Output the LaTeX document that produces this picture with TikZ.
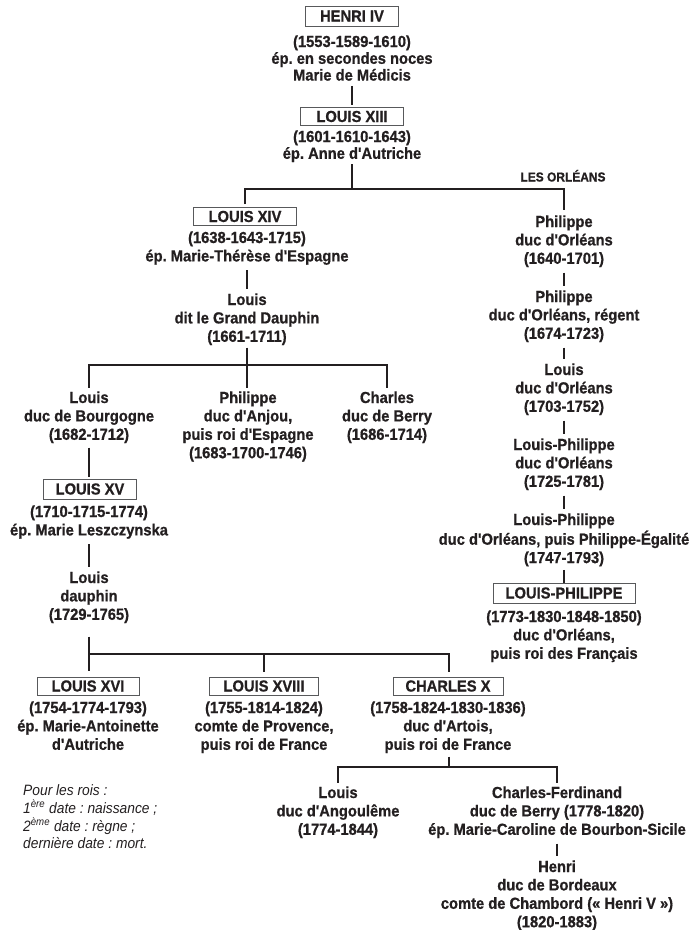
\documentclass[tikz,border=0pt]{standalone}
\usepackage{fontspec}
\setmainfont{Liberation Sans}[Ligatures=TeXOff, FakeStretch=0.92, BoldFeatures={FakeBold=0.8}]
\definecolor{ink}{HTML}{231F20}
\definecolor{boxgray}{HTML}{58595B}
\newcommand{\pers}[1]{\begin{tabular}[t]{@{}c@{}}#1\end{tabular}}
\newcommand{\legd}[1]{\begin{tabular}[t]{@{}l@{}}#1\end{tabular}}
\frenchspacing
\tikzset{
  person/.style={anchor=base, inner sep=0pt, text=ink,
    font=\fontsize{16}{18.4}\selectfont\bfseries},
  toptext/.style={person, font=\fontsize{16}{16.8}\selectfont\bfseries},
  kbox/.style={draw=boxgray, line width=0.8pt, inner sep=0pt, text=ink,
    minimum height=18pt, font=\fontsize{16}{17}\selectfont\bfseries},
  conn/.style={draw=ink, line width=1.4pt},
  gap/.style={shorten <=3pt, shorten >=3pt},
}
\begin{document}
\begin{tikzpicture}[x=1pt, y=-1pt]
\useasboundingbox (0,0) rectangle (692,930);

% ---- Henri IV, Louis XIII
\node[kbox, minimum width=93pt, minimum height=20pt] (henri) at (352,16) {HENRI IV};
\node[toptext] (henriT) at (352,47) {\pers{(1553-1589-1610)\\ép. en secondes noces\\Marie de Médicis}};
\node[kbox, minimum width=103pt] (louis13) at (352,116.5) {LOUIS XIII};
\node[toptext] (louis13T) at (352,142) {\pers{(1601-1610-1643)\\ép. Anne d'Autriche}};
\coordinate (j1) at (352,189);

\draw[conn, shorten >=2pt] (henriT.south) -- (louis13.north);
\draw[conn] (louis13T.south) -- (j1);

\node[anchor=base, inner sep=0pt, text=ink, font=\fontsize{13}{14}\selectfont\bfseries] (orl) at (563,181.5) {LES ORLÉANS};

% ---- Louis XIV branch
\node[kbox, minimum width=103pt] (louis14) at (245,216.5) {LOUIS XIV};
\node[person] (louis14T) at (247,243) {\pers{(1638-1643-1715)\\ép. Marie-Thérèse d'Espagne}};
\node[person] (dauphinT) at (247,305) {\pers{Louis\\dit le Grand Dauphin\\(1661-1711)}};
\draw[conn, gap] (louis14T.south) -- (dauphinT.north);

% ---- Orléans branch
\node[person] (phil1) at (564,227) {\pers{Philippe\\duc d'Orléans\\(1640-1701)}};
\draw[conn, shorten <=3pt, shorten >=4pt] (louis14.north) |- (j1) -| (phil1.north);

\node[person] (phil2) at (564,302) {\pers{Philippe\\duc d'Orléans, régent\\(1674-1723)}};
\node[person] (louisO) at (564,375) {\pers{Louis\\duc d'Orléans\\(1703-1752)}};
\node[person] (lp1) at (564,450) {\pers{Louis-Philippe\\duc d'Orléans\\(1725-1781)}};
\node[person] (lp2) at (564,525) {\pers{Louis-Philippe\\duc d'Orléans, puis Philippe-Égalité\\(1747-1793)}};
\node[kbox, minimum width=142pt, minimum height=20pt] (lpbox) at (564,593) {LOUIS-PHILIPPE};
\node[person] (lpT) at (564,622) {\pers{(1773-1830-1848-1850)\\duc d'Orléans,\\puis roi des Français}};
\draw[conn, gap] (phil1.south) -- (phil2.north);
\draw[conn, gap] (phil2.south) -- (louisO.north);
\draw[conn, gap] (louisO.south) -- (lp1.north);
\draw[conn, gap] (lp1.south) -- (lp2.north);
\draw[conn, shorten <=1pt] (lp2.south) -- (lpbox.north);

% ---- Grand Dauphin's sons
\node[person] (bourg) at (89,403) {\pers{Louis\\duc de Bourgogne\\(1682-1712)}};
\node[person] (anjou) at (248,403) {\pers{Philippe\\duc d'Anjou,\\puis roi d'Espagne\\(1683-1700-1746)}};
\node[person] (berry) at (387,403) {\pers{Charles\\duc de Berry\\(1686-1714)}};
\coordinate (j2) at (247,365);
\draw[conn, shorten >=2pt] (dauphinT.south) -- (anjou.north -| dauphinT.south);
\draw[conn, shorten <=2pt, shorten >=2pt] (bourg.north) |- (j2) -| (berry.north);

% ---- Louis XV
\node[kbox, minimum width=93pt, minimum height=20pt] (louis15) at (90,489) {LOUIS XV};
\node[person] (louis15T) at (89,517) {\pers{(1710-1715-1774)\\ép. Marie Leszczynska}};
\node[person] (dauph2) at (89,583) {\pers{Louis\\dauphin\\(1729-1765)}};
\draw[conn, shorten <=2pt, shorten >=2pt] (bourg.south) -- (louis15.north -| bourg.south);
\draw[conn, gap] (louis15T.south) -- (dauph2.north);

% ---- Louis XVI, Louis XVIII, Charles X
\node[kbox, minimum width=102pt] (louis16) at (88,686) {LOUIS XVI};
\node[kbox, minimum width=109pt] (louis18) at (264,686) {LOUIS XVIII};
\node[kbox, minimum width=110pt] (charles10) at (448,686) {CHARLES X};
\node[person] (louis16T) at (88,713) {\pers{(1754-1774-1793)\\ép. Marie-Antoinette\\d'Autriche}};
\node[person] (louis18T) at (264,713) {\pers{(1755-1814-1824)\\comte de Provence,\\puis roi de France}};
\node[person] (charles10T) at (448,713) {\pers{(1758-1824-1830-1836)\\duc d'Artois,\\puis roi de France}};
\coordinate (j3) at (89,654);
\draw[conn, shorten <=11pt] (dauph2.south) -- (j3);
\draw[conn, shorten <=6pt, shorten >=5pt] (louis16.north -| j3) |- (j3) -| (charles10.north -| 449,0);
\draw[conn, shorten >=5pt] (louis18.north |- j3) -- (louis18.north);

% ---- Charles X's sons
\node[person] (angou) at (338,798) {\pers{Louis\\duc d'Angoulême\\(1774-1844)}};
\node[person] (ferd) at (557,798) {\pers{Charles-Ferdinand\\duc de Berry (1778-1820)\\ép. Marie-Caroline de Bourbon-Sicile}};
\node[person] (henri5) at (557,872) {\pers{Henri\\duc de Bordeaux\\comte de Chambord (« Henri V »)\\(1820-1883)}};
\coordinate (j4) at (449,767);
\draw[conn, shorten <=1pt] (charles10T.south -| j4) -- (j4);
\draw[conn, shorten <=2pt, shorten >=2pt] (angou.north) |- (j4) -| (ferd.north);
\draw[conn, gap] (ferd.south) -- (henri5.north);

% ---- Legend
\node[anchor=base west, inner sep=0pt, text=ink,
  font=\fontsize{15}{17}\selectfont\itshape] (legend) at (23,795)
  {\legd{Pour les rois :\\1\textsuperscript{ère} date : naissance ;\\2\textsuperscript{ème} date : règne ;\\dernière date : mort.}};
\end{tikzpicture}
\end{document}
